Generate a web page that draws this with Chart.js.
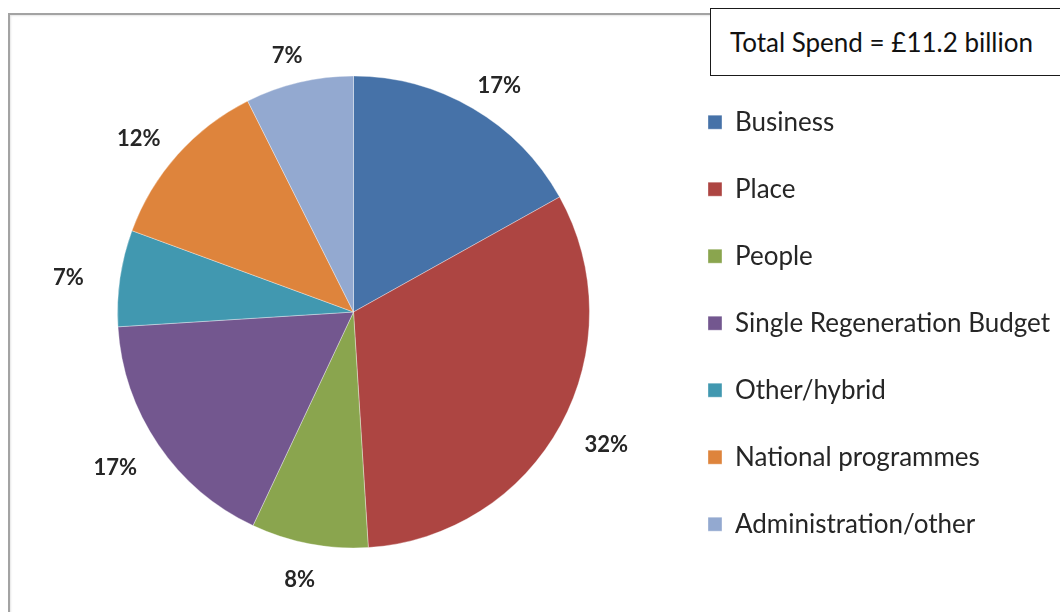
<!DOCTYPE html>
<html>
<head>
<meta charset="utf-8">
<script src="https://cdn.jsdelivr.net/npm/chart.js@4/dist/chart.umd.min.js"></script>
<style>
  html, body { margin: 0; padding: 0; background: #fff; }
  body { width: 1060px; height: 612px; position: relative; overflow: hidden; }
  #frame { position: absolute; left: 8px; top: 13px; width: 1200px; height: 800px;
           border-left: 2px solid #a3a3a3; border-top: 2px solid #a3a3a3;
           box-shadow: inset 1px 1px 2px rgba(0,0,0,0.10); }
  #chart { position: absolute; left: 0; top: 0; }
  #total { position: absolute; left: 710px; top: 8px; width: 400px; height: 68px;
           border: 1.5px solid #1a1a1a; background: #fff; color: #111;
           font: 26px Lato, sans-serif; line-height: 66px; padding-left: 19px; box-sizing: border-box; }
</style>
</head>
<body>
<div id="frame"></div>
<canvas id="chart" width="1060" height="612"></canvas>
<div id="total">Total Spend = £11.2 billion</div>
<script>
// spend shares, % of total
const categories = ['Business', 'Place', 'People', 'Single Regeneration Budget', 'Other/hybrid', 'National programmes', 'Administration/other'];
const shares = [16.9, 32.1, 8.0, 17.0, 6.6, 12.0, 7.4];
const sliceColours = ['#4672a8', '#ad4542', '#8aa54e', '#73578f', '#4198b0', '#de843c', '#93a9d0'];

// percentage labels outside each slice (a bit further out sideways, like Excel's best fit)
const pctLabels = {
  id: 'pctLabels',
  afterDatasetsDraw(chart) {
    const ctx = chart.ctx;
    const arcs = chart.getDatasetMeta(0).data;
    ctx.save();
    ctx.font = 'bold 22px Lato';
    ctx.fillStyle = '#262626';
    ctx.textAlign = 'center';
    ctx.textBaseline = 'middle';
    arcs.forEach((arc, i) => {
      const mid = (arc.startAngle + arc.endAngle) / 2;
      const x = arc.x + Math.cos(mid) * (arc.outerRadius + 52);
      const y = arc.y + 5 + Math.sin(mid) * (arc.outerRadius + 32);
      ctx.fillText(Math.round(shares[i]) + '%', x, y);
    });
    ctx.restore();
  }
};

new Chart(document.getElementById('chart').getContext('2d'), {
  type: 'pie',
  data: {
    labels: categories,
    datasets: [{
      data: shares,
      backgroundColor: sliceColours,
      borderColor: 'rgba(255,255,255,0.5)',
      borderWidth: 0.7,
      radius: 236
    }]
  },
  options: {
    responsive: false,
    animation: false,
    layout: { padding: { left: 40, right: 0, top: 20, bottom: 8 } },
    plugins: {
      legend: {
        position: 'right',
        align: 'center',
        title: { display: true, text: '', padding: 10, font: { size: 2 } },
        labels: {
          boxWidth: 14,
          boxHeight: 14,
          padding: 41,
          color: '#262626',
          font: { family: 'Lato', size: 26 }
        }
      },
      tooltip: { enabled: false }
    }
  },
  plugins: [pctLabels]
});
</script>
</body>
</html>
